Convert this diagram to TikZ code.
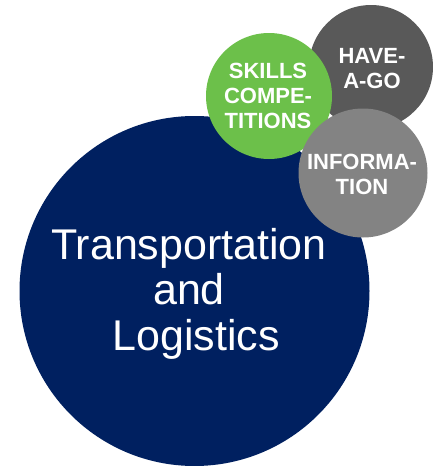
\documentclass[tikz,border=0pt]{standalone}
\usepackage{fontspec}
\setmainfont{Liberation Sans}
\definecolor{navy}{HTML}{002060}
\definecolor{leaf}{HTML}{6CC04A}
\definecolor{darkgrey}{HTML}{595959}
\definecolor{midgrey}{HTML}{838383}
\tikzset{
  bubble/.style={circle, inner sep=0pt, draw=none},
  smalltext/.style={text=white, align=center, font=\fontsize{22}{25}\selectfont\bfseries, inner sep=0pt},
  bigtext/.style={text=white, align=center, font=\fontsize{43}{45.5}\selectfont, inner sep=0pt}
}
\begin{document}
\begin{tikzpicture}[x=1pt,y=-1pt]
\useasboundingbox (0,0) rectangle (433,466);
\fill[navy] (194.5,291) circle (175);
\fill[darkgrey] (371,67) circle (62);
\fill[leaf] (269,96) circle (63);
\fill[midgrey] (363,173) circle (64.5);
\node[bubble] (tl) at (194.5,291) {};
\node[bubble] (hg) at (371,67) {};
\node[bubble] (sc) at (269,96) {};
\node[bubble] (inf) at (363,173) {};
\node[bigtext] (tltext) at (189,293.5) {Transportation\\and\\\hspace*{14pt}Logistics};
\node[smalltext] (hgtext) at (372,69) {HAVE-\\A-GO};
\node[smalltext] (sctext) at (268,96) {SKILLS\\COMPE-\\TITIONS};
\node[smalltext] (inftext) at (362,174.5) {INFORMA-\\TION};
\end{tikzpicture}
\end{document}
